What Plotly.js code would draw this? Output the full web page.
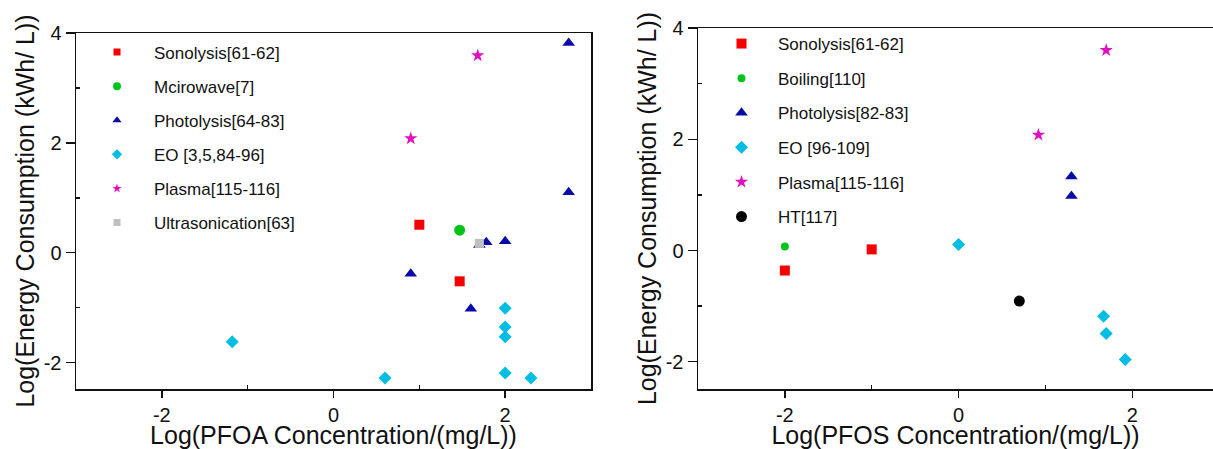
<!DOCTYPE html>
<html><head><meta charset="utf-8">
<script src="https://cdn.plot.ly/plotly-3.0.1.min.js"></script>
<style>html,body{margin:0;padding:0;background:#fff}#chart{width:1213px;height:449px}</style>
</head><body><div id="chart"></div>
<script>
// ---------- PFOA panel (left) ----------
const pfoaSonoX = [1.0, 1.47];
const pfoaSonoY = [0.51, -0.52];
const pfoaMicroX = [1.47];
const pfoaMicroY = [0.41];
const pfoaPhotoX = [2.74, 2.74, 1.70, 1.78, 2.0, 0.90, 1.60];
const pfoaPhotoY = [3.82, 1.10, 0.14, 0.19, 0.21, -0.38, -1.02];
const pfoaEOX = [-1.18, 0.60, 2.0, 2.0, 2.0, 2.0, 2.30];
const pfoaEOY = [-1.62, -2.28, -1.01, -1.35, -1.53, -2.19, -2.28];
const pfoaPlasmaX = [0.90, 1.68];
const pfoaPlasmaY = [2.08, 3.59];
const pfoaUltraX = [1.70];
const pfoaUltraY = [0.17];

// ---------- PFOS panel (right) ----------
const pfosSonoX = [-2, -1];
const pfosSonoY = [-0.36, 0.02];
const pfosBoilX = [-2];
const pfosBoilY = [0.07];
const pfosPhotoX = [1.30, 1.30];
const pfosPhotoY = [1.33, 0.98];
const pfosEOX = [0, 1.67, 1.70, 1.92];
const pfosEOY = [0.11, -1.18, -1.49, -1.96];
const pfosPlasmaX = [0.92, 1.70];
const pfosPlasmaY = [2.08, 3.60];
const pfosHTX = [0.70];
const pfosHTY = [-0.91];

const pfoaNames = ['Sonolysis[61-62]','Mcirowave[7]','Photolysis[64-83]','EO [3,5,84-96]','Plasma[115-116]','Ultrasonication[63]'];
const pfosNames = ['Sonolysis[61-62]','Boiling[110]','Photolysis[82-83]','EO [96-109]','Plasma[115-116]','HT[117]'];
const xTickVals = [-2, 0, 2];
const xTickText = ['-2', '0', '2'];
const yTickVals = [-2, 0, 2, 4];
const yTickText = ['-2', '0', '2', '4'];

const RED='#f50000', GREEN='#00c41a', BLUE='#0a0aa8', CYAN='#00bde3', MAG='#e010c0', GRAY='#c0c0c0', BLACK='#000000';

const traces = [];
function addSeries(x, y, name, color, symbol, size, legSize, xa, ya, leg, idx){
  traces.push({x:x, y:y, type:'scatter', mode:'markers', name:name, xaxis:xa, yaxis:ya,
    showlegend:false, hoverinfo:'x+y',
    marker:{color:color, symbol:symbol, size:size, line:{width:0}}});
  traces.push({x:[null], y:[null], type:'scatter', mode:'markers', name:name, xaxis:xa, yaxis:ya,
    legend:leg, legendgroup:leg+'g'+idx, showlegend:true,
    marker:{color:color, symbol:symbol, size:legSize, line:{width:0}}});
}
addSeries(pfoaSonoX, pfoaSonoY, pfoaNames[0], RED, 'square', 10, 7, 'x','y','legend',0);
addSeries(pfoaMicroX, pfoaMicroY, pfoaNames[1], GREEN, 'circle', 11, 8, 'x','y','legend',1);
addSeries(pfoaPhotoX, pfoaPhotoY, pfoaNames[2], BLUE, 'triangle-up', 11, 8, 'x','y','legend',2);
addSeries(pfoaEOX, pfoaEOY, pfoaNames[3], CYAN, 'diamond', 10, 8, 'x','y','legend',3);
addSeries(pfoaPlasmaX, pfoaPlasmaY, pfoaNames[4], MAG, 'star', 10, 7, 'x','y','legend',4);
addSeries(pfoaUltraX, pfoaUltraY, pfoaNames[5], GRAY, 'square', 9, 7, 'x','y','legend',5);

addSeries(pfosSonoX, pfosSonoY, pfosNames[0], RED, 'square', 10, 10, 'x2','y2','legend2',0);
addSeries(pfosBoilX, pfosBoilY, pfosNames[1], GREEN, 'circle', 8, 8, 'x2','y2','legend2',1);
addSeries(pfosPhotoX, pfosPhotoY, pfosNames[2], BLUE, 'triangle-up', 11, 11, 'x2','y2','legend2',2);
addSeries(pfosEOX, pfosEOY, pfosNames[3], CYAN, 'diamond', 10, 10, 'x2','y2','legend2',3);
addSeries(pfosPlasmaX, pfosPlasmaY, pfosNames[4], MAG, 'star', 10, 10, 'x2','y2','legend2',4);
addSeries(pfosHTX, pfosHTY, pfosNames[5], BLACK, 'circle', 11, 11, 'x2','y2','legend2',5);

const FONT = 'Arial, "Liberation Sans", sans-serif';
const AX = '#111';
function xax(title, domain, range, anchor){
  return {domain:domain, range:range, anchor:anchor, tickvals:xTickVals, ticktext:xTickText,
    showline:true, linecolor:AX, linewidth:1.5, mirror:true,
    ticks:'outside', ticklen:7, tickwidth:1.4, tickcolor:AX,
    minor:{tickvals:[-1,1], ticks:'inside', ticklen:4, tickwidth:1.4, tickcolor:AX},
    showgrid:false, zeroline:false, tickfont:{family:FONT, size:20, color:'#111'},
    title:{text:title, font:{family:FONT, size:25, color:'#111'}, standoff:1}};
}
function yax(domain, range, mirror, anchor){
  return {domain:domain, range:range, anchor:anchor, tickvals:yTickVals, ticktext:yTickText,
    showline:true, linecolor:AX, linewidth:1.5, mirror:mirror,
    ticks:'outside', ticklen:9, tickwidth:1.4, tickcolor:AX,
    minor:{tickvals:[-1,1,3], ticks:'inside', ticklen:4, tickwidth:1.4, tickcolor:AX},
    showgrid:false, zeroline:false, tickfont:{family:FONT, size:20, color:'#111'},
    title:{text:'Log(Energy Consumption (kWh/ L))', font:{family:FONT, size:25, color:'#111'}, standoff:2}};
}
// overlay axes that add the inner half of the crossing major ticks
function innerX(over, anchor, range, vals){
  return {overlaying:over, anchor:anchor, range:range, tickvals:vals, ticks:'inside', ticklen:8,
    tickwidth:1.4, tickcolor:AX, showticklabels:false, showline:false, showgrid:false, zeroline:false};
}
const W=1213, H=449;
const layout = {
  width:W, height:H, margin:{l:0,r:0,t:0,b:0}, paper_bgcolor:'#fff', plot_bgcolor:'#fff',
  showlegend:true, font:{family:FONT},
  xaxis: xax('Log(PFOA Concentration/(mg/L))',[76/W,591/W],[-3,3],'y'),
  yaxis: yax([1-389/H,1-33/H],[-2.48,4],true,'x'),
  xaxis2: xax('Log(PFOS Concentration/(mg/L))',[698/W,1],[-3,2.93],'y2'),
  yaxis2: yax([1-389/H,1-28/H],[-2.49,4],false,'x2'),
  xaxis3: innerX('x','y',[-3,3],xTickVals),
  yaxis3: Object.assign(innerX('y','x',[-2.48,4],yTickVals),{ticklen:9}),
  xaxis4: innerX('x2','y2',[-3,2.93],xTickVals),
  yaxis4: Object.assign(innerX('y2','x2',[-2.49,4],yTickVals),{ticklen:9}),
  legend:{x:80/W, y:1-34.5/H, xanchor:'left', yanchor:'top', bgcolor:'rgba(0,0,0,0)',
    font:{family:FONT, size:17, color:'#111'}, tracegroupgap:9, traceorder:'grouped', itemwidth:64},
  legend2:{x:705/W, y:1-26/H, xanchor:'left', yanchor:'top', bgcolor:'rgba(0,0,0,0)',
    font:{family:FONT, size:17, color:'#111'}, tracegroupgap:9.5, traceorder:'grouped', itemwidth:63}
};
Plotly.newPlot('chart', traces, layout, {displayModeBar:false, staticPlot:true});
</script></body></html>
